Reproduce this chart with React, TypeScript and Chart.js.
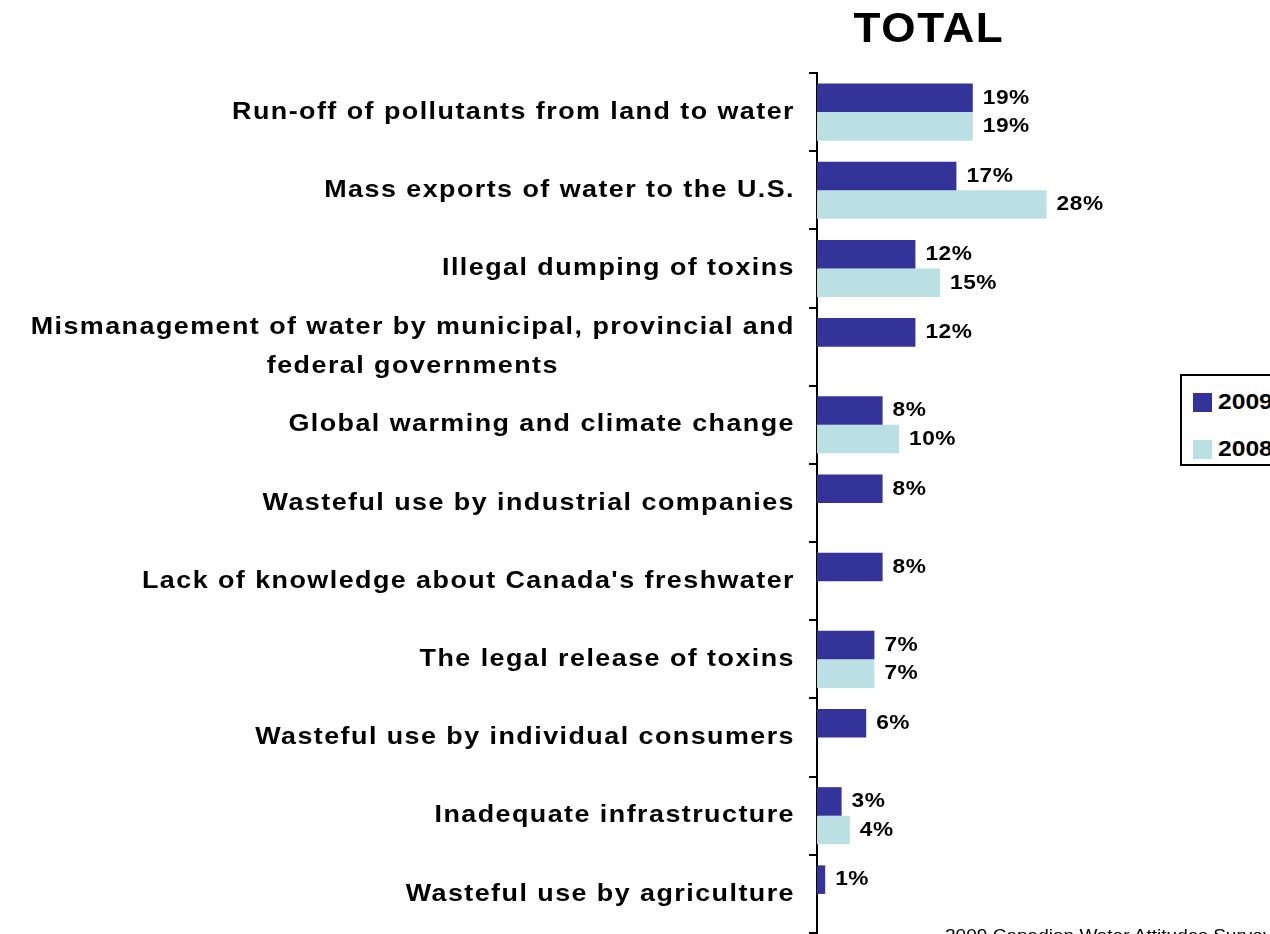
import React, { useEffect, useRef } from "react";
import { Chart, registerables } from "chart.js";

Chart.register(...registerables);

const categories: string[][] = [
  ["Run-off of pollutants from land to water"],
  ["Mass exports of water to the U.S."],
  ["Illegal dumping of toxins"],
  ["Mismanagement of water by municipal, provincial and", "federal governments"],
  ["Global warming and climate change"],
  ["Wasteful use by industrial companies"],
  ["Lack of knowledge about Canada's freshwater"],
  ["The legal release of toxins"],
  ["Wasteful use by individual consumers"],
  ["Inadequate infrastructure"],
  ["Wasteful use by agriculture"],
];

const values2009: (number | null)[] = [19, 17, 12, 12, 8, 8, 8, 7, 6, 3, 1];
const values2008: (number | null)[] = [19, 28, 15, null, 10, null, null, 7, null, 4, null];

const seriesNames = ["2009", "2008"];
const seriesColors = ["#333399", "#BBE0E3"];

const chartTitle = "TOTAL";
const footnote = "2009 Canadian Water Attitudes Survey";

const FONT = '"Liberation Sans", Arial, sans-serif';

function stretchedText(ctx: any, text: string, x: number, y: number, sx: number) {
  ctx.save();
  ctx.translate(x, y);
  ctx.scale(sx, 1);
  ctx.fillText(text, 0, 0);
  ctx.restore();
}

const categoryLabelPlugin = {
  id: "categoryLabels",
  afterDraw(chart: any) {
    const ctx = chart.ctx;
    const yScale = chart.scales.y;
    const sx = 1.12;
    ctx.save();
    ctx.font = `bold 24px ${FONT}`;
    ctx.letterSpacing = "1.3px";
    ctx.fillStyle = "#000";
    ctx.textBaseline = "middle";
    const rightX = yScale.right - 22;
    categories.forEach((lines, i) => {
      const cy = yScale.getPixelForValue(i);
      if (lines.length === 1) {
        ctx.textAlign = "right";
        stretchedText(ctx, lines[0], rightX, cy, sx);
      } else {
        const widest = Math.max(...lines.map((l) => ctx.measureText(l).width)) * sx;
        const cx = rightX - widest / 2;
        ctx.textAlign = "center";
        const lh = 39;
        lines.forEach((l, j) => {
          stretchedText(ctx, l, cx, cy + (j - (lines.length - 1) / 2) * lh, sx);
        });
      }
    });
    ctx.restore();
  },
};

const valueLabelPlugin = {
  id: "valueLabels",
  afterDatasetsDraw(chart: any) {
    const ctx = chart.ctx;
    ctx.save();
    ctx.font = `bold 21px ${FONT}`;
    ctx.letterSpacing = "0.5px";
    ctx.fillStyle = "#000";
    ctx.textBaseline = "middle";
    ctx.textAlign = "left";
    chart.data.datasets.forEach((ds: any, di: number) => {
      const meta = chart.getDatasetMeta(di);
      meta.data.forEach((bar: any, i: number) => {
        const v = ds.data[i];
        if (v === null || v === undefined) return;
        stretchedText(ctx, `${v}%`, bar.x + 10, bar.y, 1.08);
      });
    });
    ctx.restore();
  },
};

export default function App() {
  const canvasRef = useRef<HTMLCanvasElement | null>(null);

  useEffect(() => {
    document.body.style.margin = "0";
    const canvas = canvasRef.current;
    if (!canvas) return;
    const chart = new Chart(canvas, {
      type: "bar",
      data: {
        labels: categories.map((c) => c.join(" ")),
        datasets: [
          {
            label: seriesNames[0],
            data: values2009,
            backgroundColor: seriesColors[0],
            barPercentage: 1,
            categoryPercentage: 0.73,
          },
          {
            label: seriesNames[1],
            data: values2008,
            backgroundColor: seriesColors[1],
            barPercentage: 1,
            categoryPercentage: 0.73,
          },
        ],
      },
      options: {
        indexAxis: "y",
        responsive: false,
        animation: false,
        layout: { padding: { left: 0, top: 73, right: 125, bottom: 1 } },
        plugins: {
          legend: { display: false },
          tooltip: { enabled: false },
          title: { display: false },
        },
        scales: {
          x: {
            display: false,
            min: 0,
            max: 40,
          },
          y: {
            type: "category",
            offset: true,
            ticks: { display: false },
            grid: {
              offset: true,
              drawOnChartArea: false,
              drawTicks: true,
              tickLength: 8,
              color: "#000",
              lineWidth: 2,
            },
            border: { display: true, color: "#000", width: 2 },
            afterFit: (scale: any) => {
              scale.width = 817;
            },
          },
        },
      },
      plugins: [categoryLabelPlugin, valueLabelPlugin],
    });
    return () => chart.destroy();
  }, []);

  return (
    <div
      style={{
        position: "relative",
        width: 1270,
        height: 934,
        overflow: "hidden",
        background: "#fff",
        fontFamily: FONT,
      }}
    >
      <canvas ref={canvasRef} width={1270} height={934} style={{ display: "block" }} />
      <div
        style={{
          position: "absolute",
          left: 829,
          top: 5,
          width: 200,
          textAlign: "center",
          fontWeight: "bold",
          fontSize: 42,
          letterSpacing: 1.5,
          lineHeight: "46px",
          color: "#000",
          transform: "scaleX(1.05)",
        }}
      >
        {chartTitle}
      </div>
      <div
        style={{
          position: "absolute",
          left: 1180,
          top: 374,
          width: 120,
          height: 92,
          border: "2px solid #000",
          boxSizing: "border-box",
          background: "#fff",
        }}
      >
        {seriesNames.map((n, i) => (
          <div
            key={n}
            style={{
              position: "absolute",
              left: 11,
              top: 15 + i * 47,
              display: "flex",
              alignItems: "center",
              fontWeight: "bold",
              fontSize: 22,
              lineHeight: "22px",
            }}
          >
            <span
              style={{
                display: "inline-block",
                width: 19,
                height: 19,
                background: seriesColors[i],
                marginRight: 6,
              }}
            />
            <span style={{ display: "inline-block", transform: "scaleX(1.12)", transformOrigin: "left center" }}>{n}</span>
          </div>
        ))}
      </div>
      <div
        style={{
          position: "absolute",
          left: 945,
          top: 926,
          fontSize: 17,
          lineHeight: "20px",
          whiteSpace: "nowrap",
          color: "#000",
          transform: "scaleX(1.12)",
          transformOrigin: "left top",
        }}
      >
        {footnote}
      </div>
    </div>
  );
}
